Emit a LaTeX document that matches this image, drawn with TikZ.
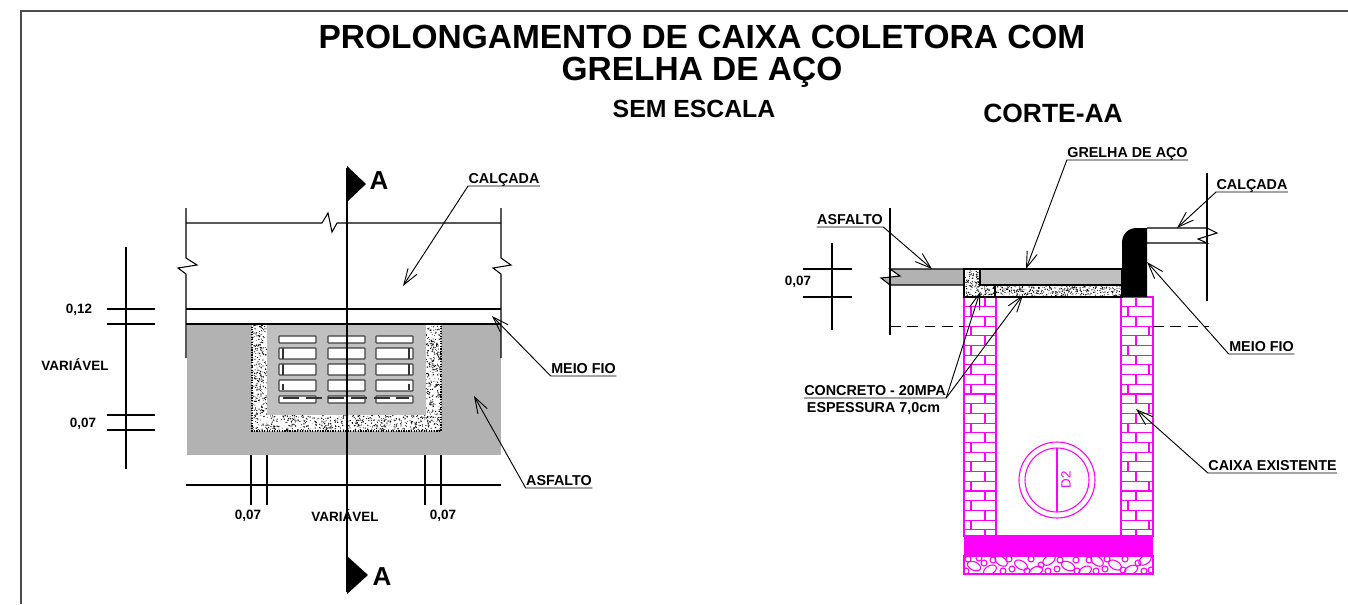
\documentclass[tikz,border=0pt]{standalone}
\usepackage{fontspec}
\usepackage{xcolor}
\setmainfont{Liberation Sans}
\usetikzlibrary{arrows.meta}

% Random dots of the concrete hatch: x0,y0,x1,y1,count
\newcommand{\pontilhado}[5]{%
  \foreach \i in {1,...,#5} {
    \pgfmathsetmacro{\px}{#1+rnd*(#3-#1)}
    \pgfmathsetmacro{\py}{#2+rnd*(#4-#2)}
    \pgfmathsetmacro{\pr}{0.35+rnd*0.45}
    \fill[black] (\px,\py) circle[radius=\pr];
  }
}

\begin{document}
\begin{tikzpicture}[x=0.75pt,y=-0.75pt,line width=0.8pt,
  titulo/.style={font=\fontsize{25.1}{24.2}\selectfont\bfseries,align=center,inner sep=0pt},
  subtitulo/.style={font=\fontsize{18.6}{20}\selectfont\bfseries,inner sep=0pt},
  letra/.style={font=\fontsize{19.5}{22}\selectfont\bfseries,inner sep=0pt},
  rotulo/.style={font=\fontsize{10.75}{12}\selectfont\bfseries,inner xsep=0pt,inner ysep=1.6pt,text depth=0pt,anchor=south},
  cota/.style={font=\fontsize{10.1}{12}\selectfont\bfseries,inner sep=0pt},
  seta/.style={-{Straight Barb[length=12pt,width=8pt]},line width=0.7pt},
  tijolo/.style={draw=caixa,line width=0.8pt}]
\definecolor{caixa}{RGB}{255,0,255}
\definecolor{asfaltoesc}{RGB}{178,178,178}
\definecolor{asfaltocla}{RGB}{192,192,192}
\useasboundingbox (0,0) rectangle (1348,604);

% Frame and titles
\draw[line width=1pt,black!70] (21,604) -- (21,11) -- (1348,11);
\node[titulo] (titulo) at (702,56.5) {PROLONGAMENTO DE CAIXA COLETORA COM\\GRELHA DE AÇO};
\node[subtitulo] (escala) at (694,109) {SEM ESCALA};
\node[subtitulo,font=\fontsize{19.8}{22}\selectfont\bfseries] (corte) at (1053,113) {CORTE-AA};

% Plan: asphalt, concrete and grate
\fill[asfaltoesc] (187,324) rectangle (501,455);
\fill[white] (252,324) rectangle (441,431);
\pgfmathsetseed{11}
\pontilhado{252}{324}{267}{431}{300}
\pontilhado{426}{324}{441}{431}{300}
\pontilhado{267}{415}{426}{431}{440}
\draw[densely dotted,line width=0.9pt] (252,324) -- (252,431) -- (441,431) -- (441,324);
\fill[asfaltocla] (267,324) rectangle (426,415);
\foreach \y/\h in {336/343,348/359,364/375,380/391,396/403} {
  \foreach \x in {279,328,376} {
    \draw[black!75,fill=white,rounded corners=0.5pt] (\x,\y) rectangle (\x+37,\h);
  }
}
% Hidden edge seen through the slots
\foreach \y/\h in {348/359,364/375,384/390} {
  \draw[black!80] (283,\y) -- (283,\h);
  \draw[black!80] (409,\y) -- (409,\h);
}
\draw[black!80,dash pattern=on 12pt off 5pt] (283,398) -- (409,398);

% Plan: lines and breaks
\draw (186,208) -- (186,258) -- (197,265) -- (178,268) -- (186,274) -- (186,358);
\draw (501,208) -- (501,258) -- (511,265) -- (493,268) -- (501,274) -- (501,358);
\draw (186,223) -- (322,223) -- (328,213) -- (332,232) -- (337,223) -- (501,223);
\draw (186,309) -- (501,309);
\draw (186,324) -- (501,324);
\draw (347,168) -- (347,592);
\fill[black] (347,166) -- (366,184) -- (347,202) -- cycle;
\fill[black] (347,556) -- (368,575) -- (347,594) -- cycle;
\node[letra] (cortetopo) at (379,181) {A};
\node[letra] (cortebase) at (382,577) {A};

% Plan: dimensions
\draw (126,247) -- (126,469);
\foreach \y in {309,324,415,430} {
  \draw (107,\y) -- (155,\y);
}
\draw (186,485) -- (501,485);
\foreach \x in {251,267,425,441} {
  \draw (\x,455) -- (\x,505);
}
\node[cota] (cotameio) at (79,310) {0,12};
\node[cota] (cotavar) at (75,365) {VARIÁVEL};
\node[cota] (cotacon) at (83,424) {0,07};
\node[cota] (cotaesq) at (248,516) {0,07};
\node[cota] (cotalarg) at (345,516) {VARIÁVEL};
\node[cota] (cotadir) at (443,516) {0,07};

% Plan: labels
\node[rotulo] (calcadaplan) at (504,186) {CALÇADA};
\node[rotulo] (meioplan) at (583.5,376) {MEIO FIO};
\node[rotulo] (asfaltoplan) at (559,488) {ASFALTO};
\coordinate (calcadaplanfim) at (403,286);
\coordinate (meioplanfim) at (492,316);
\coordinate (asfaltoplanfim) at (474,396);
\draw[seta] (calcadaplan.south east) -- (calcadaplan.south west) -- (calcadaplanfim);
\draw[seta] (meioplan.south east) -- (meioplan.south west) -- (meioplanfim);
\draw[seta] (asfaltoplan.south east) -- (asfaltoplan.south west) -- (asfaltoplanfim);

% Section: brick walls
\begin{scope}
\clip (964,297) rectangle (996,536);
\foreach \i in {0,...,24} {
  \pgfmathsetmacro{\ya}{297+\i*9.7}
  \pgfmathsetmacro{\yb}{\ya+9.7}
  \pgfmathtruncatemacro{\fiada}{mod(\i,2)}
  \ifnum\fiada=0 \def\xv{985}\else\def\xv{971}\fi
  \draw[tijolo] (964,\ya) -- (996,\ya);
  \draw[tijolo] (\xv,\ya) -- (\xv,\yb);
}
\end{scope}
\begin{scope}
\clip (1121,297) rectangle (1153,536);
\foreach \i in {0,...,24} {
  \pgfmathsetmacro{\ya}{297+\i*9.7}
  \pgfmathsetmacro{\yb}{\ya+9.7}
  \pgfmathtruncatemacro{\fiada}{mod(\i,4)}
  \ifcase\fiada \def\xv{1136}\or\def\xv{1128}\or\def\xv{1136}\or\def\xv{1149}\fi
  \draw[tijolo] (1121,\ya) -- (1153,\ya);
  \draw[tijolo] (\xv,\ya) -- (\xv,\yb);
}
\end{scope}
\draw[tijolo] (964,297) rectangle (996,536);
\draw[tijolo] (1121,297) rectangle (1153,536);

% Section: base and gravel
\fill[caixa] (964,535) rectangle (1153,556);
\begin{scope}
\clip (964,556) rectangle (1153,574);
\foreach \x/\y/\r in {974/566/-25,990/570/30,1001/561/-35,1021/565/-30,1036/571/25,1049/560/35,1068/566/-25,1085/571/30,1097/561/-35,1115/565/-30,1131/570/25,1145/560/35} {
  \draw[caixa] (\x,\y) ellipse[x radius=7,y radius=4.2,rotate=\r];
}
\foreach \x/\y in {968/559,979/558,984/563,993/560,1009/559,1012/569,1027/571,1031/559,1041/565,1057/569,1060/560,1076/560,1077/571,1089/560,1105/569,1107/559,1123/570,1125/559,1138/563,1151/570,966/571,1003/571,1048/571,1096/571,1144/571} {
  \draw[caixa] (\x,\y) circle[radius=3];
}
\end{scope}
\draw[caixa] (964,556) rectangle (1153,574);

% Section: pipe
\draw[caixa] (1057,480) circle[radius=38];
\draw[caixa] (1057,480) circle[radius=32];
\draw[caixa] (1057,448) -- (1057,512);
\node[cota,text=caixa,rotate=90,font=\fontsize{10}{12}\selectfont] (tubo) at (1066,480) {D2};

% Section: pavement, concrete and kerb
\draw[fill=asfaltoesc] (964,269) -- (890,269) -- (900,276) -- (881,278) -- (890,285) -- (964,285);
\draw[fill=white] (964,269) rectangle (980,297);
\draw[fill=white] (964,285) rectangle (1122,297);
\fill[white] (965,270) rectangle (979,296);
\pontilhado{965}{270}{979}{296}{90}
\pontilhado{979}{286}{995}{296}{40}
\pontilhado{996}{286}{1122}{296}{320}
\draw (995,285) -- (995,297);
\draw[fill=asfaltocla] (980,269) rectangle (1122,285);
\fill[black] (1147,228) -- (1137,228) .. controls (1128,228) and (1122,234) .. (1122,243) -- (1122,297) -- (1147,297) -- cycle;
\draw (1147,228) -- (1207,228) -- (1217,233) -- (1198,239) -- (1207,243) -- (1147,243);

% Section: dimensions
\draw (890,208) -- (890,335);
\draw (1207,173) -- (1207,301);
\draw[line width=0.7pt,dash pattern=on 8pt off 5pt] (890,326) -- (964,326);
\draw[line width=0.7pt,dash pattern=on 8pt off 5pt] (1153,326) -- (1209,326);
\draw (832,243) -- (832,330);
\draw (803,269) -- (852,269);
\draw (803,297) -- (852,297);
\node[cota] (cotacorte) at (798,282) {0,07};

% Section: labels
\node[rotulo] (asfaltocorte) at (850,227) {ASFALTO};
\node[rotulo] (grelha) at (1127.5,160) {GRELHA DE AÇO};
\node[rotulo] (calcadacorte) at (1252,192) {CALÇADA};
\node[rotulo] (meiocorte) at (1261.5,354) {MEIO FIO};
\node[rotulo] (caixaex) at (1272.5,473) {CAIXA EXISTENTE};
\node[rotulo] (concreto) at (875,398) {CONCRETO - 20MPA};
\node[rotulo,anchor=center,inner ysep=0pt] (espessura) at (873.5,407) {ESPESSURA 7,0cm};
\coordinate (asfaltofim) at (932,269);
\coordinate (grelhafim) at (1026,269);
\coordinate (calcadafim) at (1177,228);
\coordinate (meiofim) at (1147,262);
\coordinate (caixafim) at (1136,409);
\coordinate (concretofima) at (980,292);
\coordinate (concretofimb) at (1023,295);
\draw[seta] (asfaltocorte.south west) -- (asfaltocorte.south east) -- (asfaltofim);
\draw[seta] (grelha.south east) -- (grelha.south west) -- (grelhafim);
\draw[seta] (calcadacorte.south east) -- (calcadacorte.south west) -- (calcadafim);
\draw[seta] (meiocorte.south east) -- (meiocorte.south west) -- (meiofim);
\draw[seta] (caixaex.south east) -- (caixaex.south west) -- (caixafim);
\draw[seta] (concreto.south west) -- (concreto.south east) -- (concretofima);
\draw[seta] (concreto.south east) -- (concretofimb);
\end{tikzpicture}
\end{document}
